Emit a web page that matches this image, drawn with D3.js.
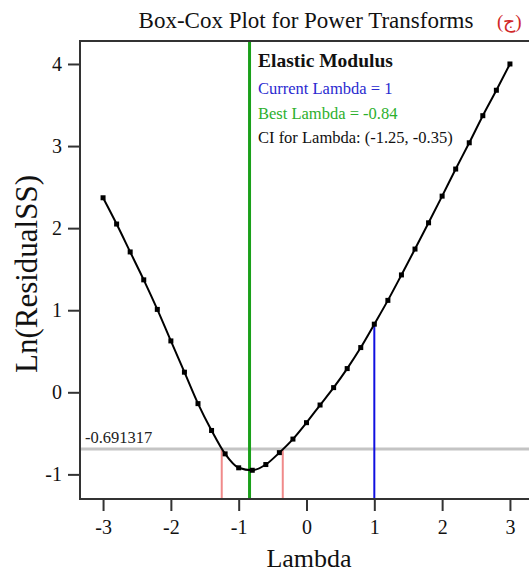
<!DOCTYPE html>
<html><head><meta charset="utf-8">
<script src="https://cdn.jsdelivr.net/npm/d3@7"></script>
<style>body{margin:0;background:#fff}svg{display:block}text{font-family:"Liberation Serif","Times New Roman",serif}</style>
</head><body><svg id="c" width="529" height="572"></svg>
<script>
const lambdas = [-3,-2.8,-2.6,-2.4,-2.2,-2,-1.8,-1.6,-1.4,-1.2,-1,-0.8,-0.6,-0.4,-0.2,0,0.2,0.4,0.6,0.8,1,1.2,1.4,1.6,1.8,2,2.2,2.4,2.6,2.8,3];
const lnRSS = [2.37,2.05,1.71,1.37,1.01,0.626,0.245,-0.138,-0.465,-0.75,-0.92,-0.95,-0.88,-0.735,-0.57,-0.37,-0.155,0.057,0.289,0.545,0.83,1.12,1.43,1.745,2.065,2.39,2.72,3.04,3.37,3.68,4.0];
const xTicks = [-3,-2,-1,0,1,2,3];
const yTicks = [-1,0,1,2,3,4];
const currentLambda = 1;
const bestLambda = -0.84;
const ciLambda = [-1.25,-0.35];
const threshold = -0.691317;
const title = "Box-Cox Plot for Power Transforms";
const seriesName = "Elastic Modulus";

const svg = d3.select("#c");
const L=80, R=533, T=41, B=499;
const x = d3.scaleLinear().domain([-3.34,3.34]).range([L,R]);
const y = d3.scaleLinear().domain([-1.3,4.28]).range([B,T]);

// title
svg.append("text").attr("x",306).attr("y",28).attr("text-anchor","middle").attr("font-size",23).attr("fill","#111").text(title);
svg.append("text").attr("x",497).attr("y",28).attr("font-size",19).attr("fill","#d02828").text("(ج)");

// reference lines
svg.append("line").attr("x1",L).attr("x2",R).attr("y1",y(threshold)).attr("y2",y(threshold)).attr("stroke","#c4c4c4").attr("stroke-width",3);
svg.append("text").attr("x",L+5).attr("y",y(threshold)-6).attr("font-size",16.5).attr("fill","#222").text(String(threshold));
ciLambda.forEach(v=>{
  svg.append("line").attr("x1",x(v)).attr("x2",x(v)).attr("y1",y(threshold)).attr("y2",B).attr("stroke","#f08a8a").attr("stroke-width",2);
});
svg.append("line").attr("x1",x(bestLambda)).attr("x2",x(bestLambda)).attr("y1",T).attr("y2",B).attr("stroke","#1aa01a").attr("stroke-width",3);
const curIdx = lambdas.indexOf(currentLambda);
svg.append("line").attr("x1",x(currentLambda)).attr("x2",x(currentLambda)).attr("y1",y(lnRSS[curIdx])).attr("y2",B).attr("stroke","#1010e0").attr("stroke-width",2);

// curve
const pts = lambdas.map((l,i)=>[l,lnRSS[i]]);
svg.append("path").datum(pts).attr("fill","none").attr("stroke","#000").attr("stroke-width",2)
  .attr("d",d3.line().x(d=>x(d[0])).y(d=>y(d[1])).curve(d3.curveMonotoneX));
svg.append("g").selectAll("rect").data(pts).join("rect")
  .attr("x",d=>x(d[0])-2.5).attr("y",d=>y(d[1])-2.5).attr("width",5).attr("height",5).attr("fill","#000");

// frame
svg.append("rect").attr("x",L).attr("y",T).attr("width",R-L).attr("height",B-T).attr("fill","none").attr("stroke","#333").attr("stroke-width",2);

// axes
const xa = svg.append("g").attr("transform",`translate(0,${B})`).call(d3.axisBottom(x).tickValues(xTicks).tickSize(12).tickPadding(9));
const ya = svg.append("g").attr("transform",`translate(${L},0)`).call(d3.axisLeft(y).tickValues(yTicks).tickSize(12).tickPadding(6));
[xa,ya].forEach(a=>{
  a.select(".domain").remove();
  a.selectAll(".tick line").attr("stroke","#333").attr("stroke-width",2);
  a.selectAll(".tick text").attr("font-family","Liberation Serif, serif").attr("font-size",20).attr("fill","#111")
    .text(d=>d<0?"-"+Math.abs(d):String(d));
});

svg.append("text").attr("x",309).attr("y",567).attr("text-anchor","middle").attr("font-size",26).attr("fill","#111").text("Lambda");
svg.append("text").attr("transform",`translate(37,274) rotate(-90)`).attr("text-anchor","middle").attr("font-size",31).attr("fill","#111").text("Ln(ResidualSS)");

// legend
const lx = 258;
svg.append("text").attr("x",lx).attr("y",67).attr("font-size",19.5).attr("font-weight","bold").attr("fill","#111").text(seriesName);
svg.append("text").attr("x",lx).attr("y",94).attr("font-size",16.5).attr("fill","#2a2ad0").text("Current Lambda = "+currentLambda);
svg.append("text").attr("x",lx).attr("y",119).attr("font-size",16.5).attr("fill","#2db02d").text("Best Lambda = "+bestLambda);
svg.append("text").attr("x",lx).attr("y",143).attr("font-size",16.5).attr("fill","#111").text("CI for Lambda: ("+ciLambda.join(", ")+")");
</script></body></html>
